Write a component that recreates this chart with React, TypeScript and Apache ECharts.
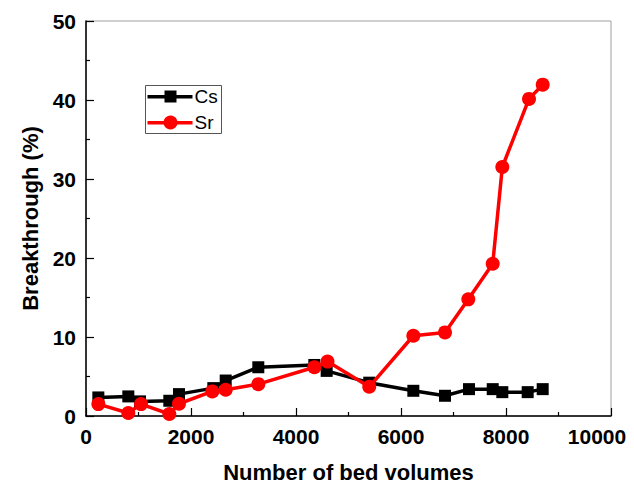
import React, { useEffect, useRef } from "react";
import * as echarts from "echarts";

const csX = [235, 806, 1029, 1587, 1771, 2425, 2661, 3282, 4349, 4584, 5395, 6235, 6838, 7295, 7747, 7930, 8413, 8699];
const csY = [2.35, 2.48, 1.85, 1.93, 2.77, 3.53, 4.49, 6.17, 6.46, 5.71, 4.22, 3.19, 2.56, 3.4, 3.4, 3.02, 3.02, 3.4];
const srX = [235, 806, 1048, 1587, 1771, 2406, 2661, 3282, 4349, 4600, 5395, 6235, 6838, 7282, 7747, 7930, 8438, 8699];
const srY = [1.51, 0.38, 1.51, 0.25, 1.55, 3.11, 3.32, 4.03, 6.17, 6.89, 3.7, 10.16, 10.58, 14.77, 19.27, 31.52, 40.14, 41.94];

const seriesNames = ["Cs", "Sr"];
const xTitle = "Number of bed volumes";
const yTitle = "Breakthrough (%)";

const FONT = "'Liberation Sans', Arial, sans-serif";

export default function App() {
  const ref = useRef<HTMLDivElement>(null);
  useEffect(() => {
    const chart = echarts.init(ref.current!, null, { renderer: "svg" });
    const cs = csX.map((x, i) => [x, csY[i]]);
    const sr = srX.map((x, i) => [x, srY[i]]);
    chart.setOption({
      animation: false,
      backgroundColor: "#fff",
      grid: {
        left: 86,
        top: 21,
        right: 23,
        bottom: 70,
        show: true,
        borderColor: "#a0a0a0",
        borderWidth: 1,
      },
      graphic: [
        {
          type: "group",
          left: 145,
          top: 85,
          children: [
            { type: "rect", shape: { x: 0, y: 0, width: 76, height: 48 }, style: { fill: "#fff", stroke: "#555", lineWidth: 1 } },
            { type: "rect", shape: { x: 2, y: 9.5, width: 45, height: 3.5 }, style: { fill: "#000" } },
            { type: "rect", shape: { x: 19, y: 5, width: 12, height: 12 }, style: { fill: "#000" } },
            { type: "text", x: 49, y: 11, style: { text: seriesNames[0], font: `19px ${FONT}`, fill: "#000", verticalAlign: "middle" } },
            { type: "rect", shape: { x: 2, y: 35.5, width: 45, height: 3.5 }, style: { fill: "#ff0000" } },
            { type: "circle", shape: { cx: 25, cy: 37, r: 7 }, style: { fill: "#ff0000" } },
            { type: "text", x: 49, y: 37, style: { text: seriesNames[1], font: `19px ${FONT}`, fill: "#000", verticalAlign: "middle" } },
          ],
        },
      ],
      xAxis: {
        type: "value",
        min: 0,
        max: 10000,
        interval: 2000,
        name: xTitle,
        nameLocation: "middle",
        nameGap: 45,
        nameTextStyle: { fontFamily: FONT, fontSize: 22, fontWeight: "bold", color: "#000" },
        axisLine: { show: true, onZero: false, lineStyle: { color: "#000", width: 1.5 } },
        axisTick: { show: true, inside: true, length: 8, lineStyle: { color: "#000", width: 1.2 } },
        minorTick: { show: true, splitNumber: 2, length: 4, lineStyle: { color: "#000", width: 1.2 } },
        splitLine: { show: false },
        axisLabel: {
          margin: 10,
          fontFamily: FONT,
          fontSize: 21,
          fontWeight: "bold",
          color: "#000",
          formatter: (v: number) => (v === 10000 ? "{last|10000}" : String(v)),
          rich: {
            last: { fontFamily: FONT, fontSize: 21, fontWeight: "bold", color: "#000", padding: [0, 28, 0, 0] },
          },
        },
      },
      yAxis: {
        type: "value",
        min: 0,
        max: 50,
        interval: 10,
        name: yTitle,
        nameLocation: "middle",
        nameGap: 28,
        nameTextStyle: { fontFamily: FONT, fontSize: 22, fontWeight: "bold", color: "#000" },
        axisLine: { show: true, onZero: false, lineStyle: { color: "#000", width: 1.5 } },
        axisTick: { show: true, inside: true, length: 8, lineStyle: { color: "#000", width: 1.2 } },
        minorTick: { show: true, splitNumber: 2, length: 4, lineStyle: { color: "#000", width: 1.2 } },
        splitLine: { show: false },
        axisLabel: { margin: 10, fontFamily: FONT, fontSize: 21, fontWeight: "bold", color: "#000" },
      },
      series: [
        {
          name: seriesNames[0],
          type: "line",
          data: cs,
          symbol: "rect",
          symbolSize: 12,
          color: "#000",
          lineStyle: { color: "#000", width: 3.5 },
          itemStyle: { color: "#000" },
          z: 2,
        },
        {
          name: seriesNames[1],
          type: "line",
          data: sr,
          symbol: "circle",
          symbolSize: 14,
          color: "#ff0000",
          lineStyle: { color: "#ff0000", width: 3.5 },
          itemStyle: { color: "#ff0000" },
          z: 3,
        },
      ],
    });
    return () => chart.dispose();
  }, []);
  return <div ref={ref} style={{ width: 634, height: 488, position: "absolute", left: 0, top: 0 }} />;
}
